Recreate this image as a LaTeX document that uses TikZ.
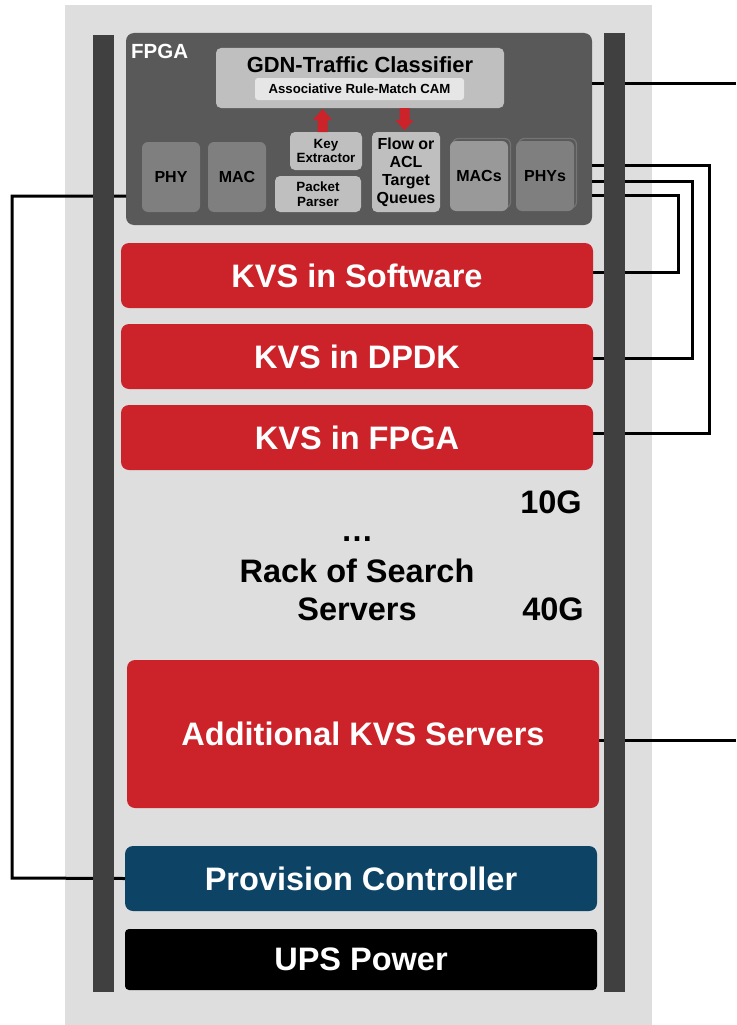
\documentclass[tikz,border=0pt]{standalone}
\usepackage{fontspec}
\setmainfont{Liberation Sans}
\definecolor{bgray}{HTML}{DEDEDE}
\definecolor{bar}{HTML}{404040}
\definecolor{fpgac}{HTML}{595959}
\definecolor{midg}{HTML}{7F7F7F}
\definecolor{macsg}{HTML}{999999}
\definecolor{shad}{HTML}{747474}
\definecolor{lightg}{HTML}{BFBFBF}
\definecolor{camg}{HTML}{E6E6E6}
\definecolor{kvsred}{HTML}{CC2229}
\definecolor{provblue}{HTML}{0D4466}
\tikzset{
  box/.style={anchor=north west, inner sep=0pt, outer sep=0pt, align=center},
  redbox/.style={box, fill=kvsred, rounded corners=8pt, text=white, font=\fontsize{32.5}{38}\selectfont\bfseries},
  midbox/.style={box, fill=midg, rounded corners=6pt, font=\fontsize{16}{18}\selectfont\bfseries, minimum width=58pt, minimum height=70pt},
  shadbox/.style={draw=shad, line width=1.2pt, fill=fpgac, rounded corners=6pt},
  litebox/.style={box, fill=lightg, rounded corners=5pt, font=\fontsize{13.4}{14.5}\selectfont\bfseries},
  wire/.style={line width=3pt, black},
  railbar/.style={fill=bar, draw=none},
  redarrow/.style={fill=kvsred, draw=none},
  bigtxt/.style={font=\fontsize{32.5}{38}\selectfont\bfseries, inner sep=0pt, align=center}
}
\begin{document}
\begin{tikzpicture}[x=1pt,y=-1pt]
\useasboundingbox (0,0) rectangle (736,1025);
\fill[bgray] (65,5) rectangle (652,1025);

% nodes
\node[box, fill=fpgac, rounded corners=8pt, minimum width=466pt, minimum height=192pt] (fpga) at (126,33) {};
\node[redbox, minimum width=472pt, minimum height=65pt] (kvss) at (121,243) {KVS in Software};
\node[redbox, minimum width=472pt, minimum height=65pt] (kvsd) at (121,324) {KVS in DPDK};
\node[redbox, minimum width=472pt, minimum height=65pt] (kvsf) at (121,405) {KVS in FPGA};
\node[redbox, minimum width=472pt, minimum height=148pt] (addk) at (127,660) {Additional KVS Servers};
\node[redbox, fill=provblue, minimum width=472pt, minimum height=65pt] (prov) at (125,846) {Provision Controller};
\node[redbox, fill=black, rounded corners=4pt, minimum width=472pt, minimum height=61pt] (ups) at (125,929) {UPS Power};

% free ends
\coordinate (r0) at (736,83);
\coordinate (r5) at (736,740);

% wires
\draw[wire] (fpga.east |- r0) -- (r0);
\draw[wire] (592,165) -- (709,165) -- (709,433) -- (kvsf.east |- 0,433);
\draw[wire] (592,181) -- (692,181) -- (692,358) -- (kvsd.east |- 0,358);
\draw[wire] (592,195) -- (678,195) -- (678,272) -- (kvss.east |- 0,272);
\draw[wire] (addk.east |- r5) -- (r5);
\draw[wire] (fpga.west |- 0,196) -- (12,196) -- (12,878) -- (prov.west);

% rails
\fill[railbar] (93,35) rectangle (114,992);
\fill[railbar] (604,33) rectangle (625,992);

% FPGA contents
\node[anchor=base west, inner sep=0pt, text=white, font=\fontsize{20.5}{22}\selectfont\bfseries] (fpgalbl) at (131,59) {FPGA};
\node[box, fill=lightg, rounded corners=5pt, minimum width=288pt, minimum height=60pt] (gdn) at (216,48) {};
\node[anchor=base, inner sep=0pt, font=\fontsize{21.9}{24}\selectfont\bfseries] (gdnt) at (360,73) {GDN-Traffic Classifier};
\node[box, fill=camg, rounded corners=3pt, minimum width=209pt, minimum height=22pt, font=\fontsize{13.2}{14}\selectfont\bfseries] (cam) at (255,78) {Associative Rule-Match CAM};

\node[midbox] (phy) at (142,142) {PHY};
\node[midbox] (mac) at (208,142) {MAC};
\draw[shadbox] (452.5,138.5) rectangle (510.5,208);
\node[midbox, fill=macsg] (macs) at (450,141) {MACs};
\draw[shadbox] (518.5,138.5) rectangle (576.5,208);
\node[midbox] (phys) at (516,141) {PHYs};

\node[litebox, minimum width=72pt, minimum height=38pt] (key) at (290,132) {Key\\Extractor};
\node[litebox, minimum width=86pt, minimum height=36pt] (pp) at (275,176) {Packet\\Parser};
\node[litebox, minimum width=68pt, minimum height=80pt, font=\fontsize{16}{18}\selectfont\bfseries] (flow) at (372,132) {Flow or\\ACL\\Target\\Queues};

% red block arrows
\fill[redarrow] (317.5,132) -- (317.5,120) -- (313,120) -- (322.5,109) -- (332,120) -- (327.5,120) -- (327.5,132) -- cycle;
\fill[redarrow] (399.5,108) -- (399.5,120) -- (395.5,120) -- (404.5,130.5) -- (413.5,120) -- (409.5,120) -- (409.5,108) -- cycle;

% free text
\node[bigtxt, anchor=base] (g10) at (551,513) {10G};
\node[bigtxt, anchor=base] (dots) at (357,541) {\dots};
\node[bigtxt, anchor=base] (rack1) at (357,582) {Rack of Search};
\node[bigtxt, anchor=base] (rack2) at (357,620) {Servers};
\node[bigtxt, anchor=base] (g40) at (553,620) {40G};
\end{tikzpicture}
\end{document}
